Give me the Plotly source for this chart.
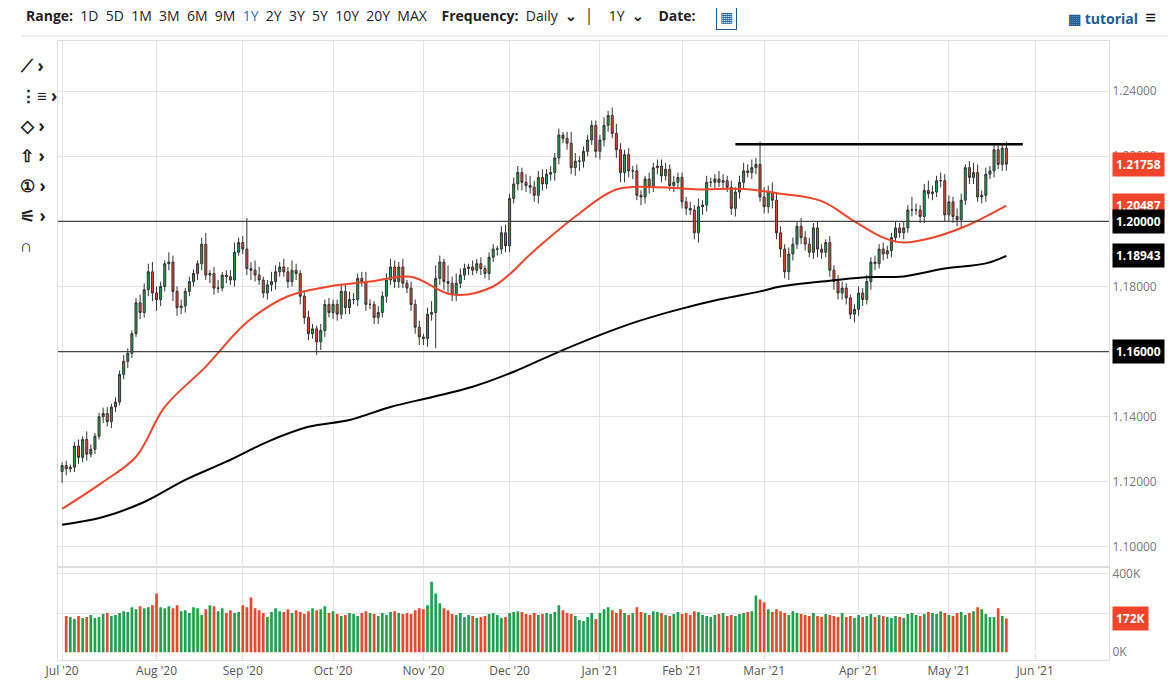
import pandas as pd
import plotly.graph_objects as go
from plotly.subplots import make_subplots

# ---- data (EUR/USD daily, Jul 2020 - May 2021) ----
first_open = 1.1232

closes = [
    # Jul '20
    1.1250, 1.1240, 1.1245, 1.1310, 1.1275, 1.1330, 1.1285, 1.1300, 1.1340, 1.1400, 1.1410, 1.1385,
    1.1430, 1.1445, 1.1530, 1.1570, 1.1595, 1.1655, 1.1750, 1.1720, 1.1790, 1.1845, 1.1780,
    # Aug
    1.1760, 1.1800, 1.1870, 1.1875, 1.1785, 1.1735, 1.1740, 1.1785, 1.1815, 1.1840, 1.1870,
    1.1930, 1.1835, 1.1840, 1.1795, 1.1795, 1.1835, 1.1830, 1.1820, 1.1905, 1.1935,
    # Sep
    1.1915, 1.1855, 1.1850, 1.1835, 1.1820, 1.1780, 1.1805, 1.1815, 1.1845, 1.1860, 1.1845,
    1.1815, 1.1850, 1.1840, 1.1770, 1.1705, 1.1655, 1.1670, 1.1630, 1.1665, 1.1745, 1.1720,
    # Oct
    1.1745, 1.1715, 1.1785, 1.1735, 1.1760, 1.1760, 1.1825, 1.1815, 1.1745, 1.1745, 1.1705,
    1.1720, 1.1770, 1.1820, 1.1860, 1.1815, 1.1860, 1.1810, 1.1795, 1.1745, 1.1675, 1.1645,
    # Nov
    1.1640, 1.1715, 1.1720, 1.1825, 1.1875, 1.1815, 1.1810, 1.1775, 1.1810, 1.1835, 1.1855,
    1.1860, 1.1850, 1.1870, 1.1855, 1.1840, 1.1890, 1.1915, 1.1915, 1.1965, 1.1925,
    # Dec
    1.2070, 1.2115, 1.2150, 1.2120, 1.2110, 1.2105, 1.2080, 1.2135, 1.2115, 1.2145, 1.2150,
    1.2195, 1.2265, 1.2255, 1.2240, 1.2165, 1.2185, 1.2185, 1.2215, 1.2250, 1.2295, 1.2215,
    # Jan '21
    1.2250, 1.2295, 1.2325, 1.2270, 1.2220, 1.2150, 1.2205, 1.2155, 1.2155, 1.2080,
    1.2075, 1.2130, 1.2105, 1.2165, 1.2170, 1.2140, 1.2160, 1.2110, 1.2120, 1.2135,
    # Feb
    1.2060, 1.2040, 1.2035, 1.1965, 1.2045, 1.2050, 1.2120, 1.2120, 1.2130, 1.2120,
    1.2125, 1.2105, 1.2040, 1.2090, 1.2120, 1.2155, 1.2150, 1.2165, 1.2175, 1.2075,
    # Mar
    1.2045, 1.2090, 1.2065, 1.1965, 1.1915, 1.1845, 1.1900, 1.1930, 1.1985, 1.1950, 1.1930, 1.1905,
    1.1980, 1.1915, 1.1905, 1.1935, 1.1850, 1.1815, 1.1780, 1.1795, 1.1765, 1.1715, 1.1730,
    # Apr
    1.1780, 1.1760, 1.1815, 1.1875, 1.1870, 1.1915, 1.1900, 1.1910, 1.1950, 1.1980, 1.1965,
    1.1980, 1.2035, 1.2035, 1.2035, 1.2015, 1.2095, 1.2085, 1.2090, 1.2125, 1.2125, 1.2020,
    # May
    1.2060, 1.2015, 1.2005, 1.2065, 1.2165, 1.2135, 1.2150, 1.2075, 1.2080, 1.2145,
    1.2155, 1.2220, 1.2175, 1.2225, 1.21758,
]

# wick sizes in pips above / below the candle body
wick_up = [
    10, 15, 8, 12, 20, 10, 25, 15, 10, 12, 18, 20, 10, 15, 12, 20, 15, 10, 15, 25, 20, 25, 30,
    20, 15, 10, 30, 20, 15, 20, 10, 15, 12, 10, 20, 35, 10, 20, 25, 10, 15, 20, 30, 15, 20,
    95, 20, 30, 25, 10, 15, 30, 20, 15, 25, 15, 30, 20, 10, 15, 20, 15, 10, 20, 15, 20, 15,
    15, 20, 20, 25, 20, 15, 20, 30, 15, 10, 20, 15, 20, 25, 20, 15, 25, 10, 20, 15, 20, 10,
    20, 35, 40, 20, 10, 50, 20, 30, 20, 15, 10, 20, 15, 20, 10, 15, 15, 10, 20, 25, 15,
    20, 20, 15, 25, 30, 20, 20, 25, 15, 20, 15, 20, 10, 20, 35, 25, 15, 15, 15, 15, 15, 15,
    25, 15, 25, 30, 20, 15, 20, 15, 20, 15, 10, 20, 15, 20, 20, 20, 15, 20, 15, 15,
    15, 20, 15, 25, 15, 20, 15, 15, 25, 20, 15, 20, 15, 20, 25, 20, 25, 20, 70, 30,
    20, 30, 25, 20, 15, 20, 20, 15, 25, 20, 20, 15, 20, 15, 10, 20, 15, 20, 20, 15, 10, 15, 20,
    15, 20, 15, 20, 15, 20, 15, 15, 20, 15, 20, 15, 40, 20, 15, 20, 30, 20, 15, 25, 20, 20,
    15, 25, 20, 10, 20, 30, 25, 15, 20, 15, 20, 20, 15, 20, 20,
]
wick_dn = [
    35, 20, 10, 15, 20, 15, 20, 10, 15, 10, 20, 15, 20, 15, 10, 15, 20, 15, 10, 20, 15, 20, 25,
    35, 20, 15, 20, 30, 25, 20, 20, 15, 15, 20, 20, 15, 25, 20, 15, 10, 20, 15, 20, 10, 15,
    20, 30, 20, 15, 15, 20, 20, 25, 15, 15, 20, 15, 20, 25, 20, 20, 15, 40, 25, 20, 15, 20,
    20, 15, 20, 20, 15, 20, 15, 20, 15, 20, 20, 15, 20, 15, 20, 20, 15, 15, 20, 20, 25, 20,
    25, 20, 110, 20, 25, 30, 20, 20, 15, 15, 20, 15, 10, 20, 15, 20, 15, 20, 15, 20, 20,
    15, 20, 25, 20, 20, 20, 25, 20, 15, 20, 25, 20, 15, 20, 20, 25, 30, 20, 15, 15, 20, 25,
    20, 20, 15, 25, 30, 30, 20, 25, 15, 25, 20, 20, 15, 20, 20, 15, 15, 20, 20, 20,
    20, 15, 20, 30, 25, 20, 15, 20, 15, 20, 15, 20, 25, 20, 20, 15, 20, 20, 15, 20,
    20, 25, 20, 25, 20, 25, 20, 15, 20, 20, 15, 20, 25, 20, 15, 20, 25, 20, 20, 20, 15, 25, 20,
    20, 15, 25, 20, 15, 20, 15, 20, 15, 15, 20, 15, 20, 15, 20, 20, 15, 20, 15, 20, 20, 20,
    20, 20, 25, 15, 20, 20, 15, 20, 20, 15, 20, 15, 20, 20, 20,
]

# volume in thousands (last value = latest session)
volume_k = [
    185, 180, 170, 185, 175, 180, 190, 175, 180, 195, 200, 185, 190, 200, 210, 205, 230, 220, 235, 225, 230, 240, 300,
    230, 225, 235, 225, 240, 210, 215, 200, 230, 225, 190, 220, 240, 235, 210, 225, 200, 215, 200, 205, 240, 230,
    280, 225, 215, 200, 180, 205, 225, 210, 205, 220, 200, 215, 205, 195, 210, 225, 215, 220, 235, 200, 210, 195,
    185, 190, 200, 195, 185, 200, 210, 200, 195, 185, 200, 190, 205, 210, 200, 195, 200, 195, 215, 225,
    220, 240, 360, 300, 250, 225, 215, 195, 190, 200, 180, 190, 185, 175, 180, 185, 195, 200, 190, 175, 180,
    200, 205, 210, 205, 195, 190, 200, 190, 195, 200, 195, 205, 240, 215, 200, 195, 185, 165, 160, 180, 200, 170,
    200, 220, 230, 215, 200, 220, 200, 190, 200, 230, 205, 200, 190, 210, 205, 200, 190, 185, 195, 205,
    195, 200, 190, 210, 205, 190, 185, 180, 190, 195, 200, 185, 190, 185, 195, 200, 205, 210, 290, 270,
    255, 220, 205, 220, 210, 200, 190, 210, 200, 195, 190, 185, 200, 185, 180, 195, 190, 185, 180, 200, 180, 185, 175,
    190, 180, 185, 195, 180, 190, 185, 180, 175, 185, 180, 175, 195, 200, 190, 185, 195, 205, 200, 195, 210, 200,
    190, 185, 200, 205, 190, 200, 210, 230, 220, 195, 180, 180, 225, 185, 172,
]

# moving averages (trading-day index, price)
ma50_idx = [0, 10, 18, 25, 35, 45, 55, 65, 75, 85, 95, 105, 115, 125, 135, 145, 155, 165, 175, 185, 193, 200, 205, 212, 220, 230]
ma50_val = [1.1117, 1.1200, 1.1277, 1.1430, 1.1554, 1.1690, 1.1770, 1.1800, 1.1815, 1.1830, 1.1775, 1.1800, 1.1910,
            1.2015, 1.2098, 1.2105, 1.2098, 1.2100, 1.2085, 1.2062, 1.2000, 1.1950, 1.1935, 1.1950, 1.1985, 1.20487]
ma200_idx = [0, 10, 20, 30, 40, 50, 60, 70, 80, 90, 100, 110, 120, 130, 140, 150, 160, 170, 175, 185, 195, 205, 215, 225, 230]
ma200_val = [1.1068, 1.1092, 1.1138, 1.1206, 1.1262, 1.1323, 1.1369, 1.1390, 1.1430, 1.1460, 1.1492, 1.1538, 1.1594,
             1.1646, 1.1692, 1.1729, 1.1760, 1.1785, 1.1800, 1.1815, 1.1828, 1.1831, 1.1855, 1.1871, 1.18943]

level_lines = [1.20, 1.16]
resistance = 1.2237
price_ticks = [1.10, 1.12, 1.14, 1.16, 1.18, 1.20, 1.22, 1.24]

GREEN = "#1aa34a"
RED = "#f0452a"

dates = pd.bdate_range("2020-07-01", "2021-05-21")
dates = dates[~dates.isin(pd.to_datetime(["2020-12-25", "2021-01-01"]))]
n = min(len(dates), len(closes))
dates = dates[:n]
closes = closes[:n]
opens = [first_open] + closes[:-1]
wu = [wick_up[min(i, len(wick_up) - 1)] for i in range(n)]
wd = [wick_dn[min(i, len(wick_dn) - 1)] for i in range(n)]
highs = [max(o, c) + u / 10000 for o, c, u in zip(opens, closes, wu)]
lows = [min(o, c) - d / 10000 for o, c, d in zip(opens, closes, wd)]
bar_colors = [GREEN if c >= o else RED for o, c in zip(opens, closes)]

# volume aligned to the latest sessions
nv = min(n, len(volume_k))
vol_dates = dates[n - nv:]
vol = volume_k[len(volume_k) - nv:]
vol_colors = bar_colors[n - nv:]

ma50_idx = [min(i, n - 1) for i in ma50_idx]
ma200_idx = [min(i, n - 1) for i in ma200_idx]

fig = make_subplots(rows=2, cols=1, shared_xaxes=True, vertical_spacing=0.0,
                    row_heights=[0.85, 0.15])

fig.add_trace(go.Candlestick(
    x=dates, open=opens, high=highs, low=lows, close=closes,
    increasing=dict(line=dict(color="#333", width=1), fillcolor=GREEN),
    decreasing=dict(line=dict(color="#333", width=1), fillcolor=RED),
    whiskerwidth=0, showlegend=False,
), row=1, col=1)

fig.add_trace(go.Scatter(x=dates[ma50_idx], y=ma50_val, mode="lines", line=dict(color=RED, width=2, shape="spline"),
                         showlegend=False, hoverinfo="skip"), row=1, col=1)
fig.add_trace(go.Scatter(x=dates[ma200_idx], y=ma200_val, mode="lines", line=dict(color="black", width=2, shape="spline"),
                         showlegend=False, hoverinfo="skip"), row=1, col=1)

fig.add_trace(go.Bar(x=vol_dates, y=vol, marker=dict(color=vol_colors, line_width=0),
                     showlegend=False), row=2, col=1)

fig.add_trace(go.Scatter(x=[dates[min(164, n - 1)], pd.Timestamp("2021-05-27")], y=[resistance, resistance],
                         mode="lines", line=dict(color="black", width=2.5),
                         showlegend=False, hoverinfo="skip"), row=1, col=1)

for lv in level_lines:
    fig.add_shape(type="line", xref="paper", x0=0, x1=1, yref="y", y0=lv, y1=lv,
                  line=dict(color="#444", width=1.3))

rb = [dict(bounds=["sat", "mon"]), dict(values=["2020-12-25", "2021-01-01"])]
xr = ["2020-06-30", "2021-06-25"]
fig.update_xaxes(rangebreaks=rb, range=xr, showgrid=True, gridcolor="#e3e3e3",
                 dtick="M1", tickformat="%b '%y", ticklabelmode="instant",
                 rangeslider_visible=False, showline=True, linecolor="#ddd", mirror=True,
                 tickfont=dict(color="#555", size=12), ticks="")
fig.update_xaxes(showticklabels=False, row=1, col=1)

fig.update_yaxes(side="right", range=[1.0938, 1.2554], tickvals=price_ticks,
                 ticktext=[f"{v:.5f}" for v in price_ticks], gridcolor="#e3e3e3",
                 tickfont=dict(color="#777", size=12), showline=True, linecolor="#ddd",
                 mirror=True, row=1, col=1)
fig.update_yaxes(side="right", range=[-40, 435], tickvals=[0, 200, 400], ticktext=["0K", "", "400K"],
                 gridcolor="#e3e3e3", tickfont=dict(color="#777", size=12), showline=True,
                 linecolor="#ddd", mirror=True, row=2, col=1)

# price tags on the right
tags = [(closes[-1], RED, "y"), (ma50_val[-1], RED, "y"), (1.20, "black", "y"),
        (ma200_val[-1], "black", "y"), (1.16, "black", "y"), (volume_k[-1], RED, "y2")]
for val, col, yr in tags:
    txt = f"{val:.0f}K" if yr == "y2" else f"{val:.5f}"
    fig.add_annotation(x=1, xref="paper", y=val, yref=yr, text=f"<b>{txt}</b>", showarrow=False,
                       xanchor="left", xshift=3, bgcolor=col, font=dict(color="white", size=12),
                       borderpad=3)

# top toolbar
sp = "&nbsp;&nbsp;"
ranges = ["1D", "5D", "1M", "3M", "6M", "9M", "<span style='color:#1a6fc2'>1Y</span>",
          "2Y", "3Y", "5Y", "10Y", "20Y", "MAX"]
toolbar = ("<b>Range:</b>" + sp + sp.join(ranges) + sp + sp
           + "<b>Frequency:</b>" + sp + "Daily" + sp + "<b>⌄</b>" + sp + "│" + sp + sp
           + "1Y" + sp + "<b>⌄</b>" + sp + sp + "<b>Date:</b>")
fig.add_annotation(x=-0.032, y=1.040, xref="paper", yref="paper", text=toolbar, showarrow=False,
                   xanchor="left", yanchor="middle", font=dict(size=14, color="#222"))
fig.add_annotation(x=0.636, y=1.040, xref="paper", yref="paper", text="▦", showarrow=False,
                   xanchor="center", yanchor="middle", font=dict(size=14, color="#1a5c96"),
                   bordercolor="#1a5c96", borderwidth=1, borderpad=3)
fig.add_annotation(x=1.047, y=1.038, xref="paper", yref="paper",
                   text="<b>▦ tutorial</b>" + sp + "<b style='color:#111;font-size:19px'>≡</b>",
                   showarrow=False, xanchor="right", yanchor="middle", font=dict(size=14, color="#1a5c96"))
fig.add_shape(type="line", xref="paper", yref="paper", x0=-0.035, x1=1.06, y0=1.008, y1=1.008,
              line=dict(color="#ddd", width=1))

icons = ["⟋ ›", "⋮≡ ›", "◇ ›", "⇧ ›", "① ›", "⚟ ›", "∩"]
for i, ic in enumerate(icons):
    fig.add_annotation(x=-0.038, y=0.961 - i * 0.0485, xref="paper", yref="paper", text=f"<b>{ic}</b>",
                       showarrow=False, xanchor="left", yanchor="middle", font=dict(size=17, color="#222"))

fig.update_layout(
    width=1168, height=682,
    margin=dict(l=50, r=67, t=33, b=30),
    paper_bgcolor="white", plot_bgcolor="white",
    font=dict(family="Open Sans", color="#555"),
    bargap=0.35, hovermode=False,
)

fig.write_html("out.html")
